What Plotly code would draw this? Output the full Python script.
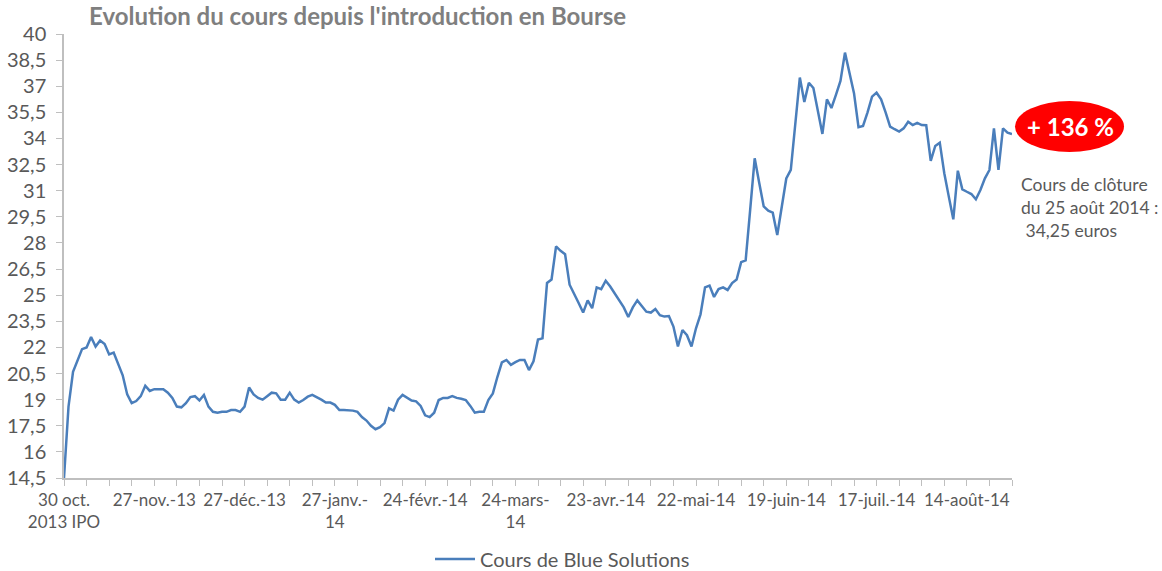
import plotly.graph_objects as go

# ---- data (daily closes, index = trading day since IPO) ----
prices = [
    14.5, 18.6, 20.6, 21.2, 21.9, 22.0, 22.6, 22.05, 22.4, 22.2,
    21.6, 21.7, 21.1, 20.4, 19.3, 18.8, 18.92, 19.2, 19.8, 19.5,
    19.6, 19.6, 19.6, 19.4, 19.1, 18.6, 18.56, 18.8, 19.15, 19.2,
    18.95, 19.27, 18.6, 18.3, 18.25, 18.3, 18.3, 18.4, 18.4, 18.3,
    18.6, 19.7, 19.3, 19.1, 19.0, 19.2, 19.4, 19.36, 19.0, 19.0,
    19.4, 19.0, 18.83, 18.98, 19.17, 19.27, 19.14, 19.0, 18.83, 18.83,
    18.7, 18.4, 18.4, 18.4, 18.37, 18.3, 18.0, 17.8, 17.5, 17.3,
    17.42, 17.65, 18.5, 18.37, 19.0, 19.27, 19.1, 18.95, 18.9, 18.64,
    18.1, 18.0, 18.25, 18.98, 19.1, 19.1, 19.2, 19.1, 19.05, 18.98,
    18.64, 18.25, 18.3, 18.3, 18.98, 19.36, 20.3, 21.14, 21.28, 21.0,
    21.15, 21.28, 21.28, 20.7, 21.2, 22.45, 22.52, 25.7, 25.9, 27.8,
    27.55, 27.35, 25.6, 25.1, 24.55, 24.0, 24.7, 24.25, 25.45, 25.35,
    25.83, 25.5, 25.1, 24.75, 24.3, 23.75, 24.3, 24.7, 24.4, 24.05,
    24.0, 24.2, 23.85, 23.77, 23.8, 23.2, 22.05, 23.0, 22.7, 22.05,
    23.1, 23.9, 25.45, 25.55, 24.9, 25.35, 25.45, 25.3, 25.7, 25.9,
    26.9, 27.0, 29.9, 32.86, 31.46, 30.1, 29.85, 29.74, 28.46, 30.1,
    31.7, 32.2, 34.9, 37.5, 36.1, 37.2, 36.9, 35.5, 34.26, 36.25,
    35.75, 36.5, 37.3, 38.93, 37.84, 36.6, 34.65, 34.72, 35.5, 36.4,
    36.63, 36.25, 35.5, 34.68, 34.53, 34.4, 34.58, 34.96, 34.77, 34.9,
    34.77, 34.76, 32.72, 33.57, 33.76, 32.0, 30.66, 29.36, 32.15, 31.08,
    30.94, 30.81, 30.51, 31.04, 31.71, 32.19, 34.58, 32.19, 34.58, 34.33,
    34.25,
]
days = list(range(len(prices)))

x_label_pos = [0, 20, 40, 60, 80, 100, 120, 140, 160, 180, 200]
x_labels = ["30 oct.<br>2013 IPO", "27-nov.-13", "27-déc.-13", "27-janv.-<br>14",
            "24-févr.-14", "24-mars-<br>14", "23-avr.-14", "22-mai-14",
            "19-juin-14", "17-juil.-14", "14-août-14"]
x_tick_step = 5

y_ticks = [14.5, 16, 17.5, 19, 20.5, 22, 23.5, 25, 26.5, 28, 29.5, 31, 32.5,
           34, 35.5, 37, 38.5, 40]
y_ticktext = [("%g" % v).replace(".", ",") for v in y_ticks]

series_name = "Cours de Blue Solutions"
title_text = "Evolution du cours depuis l'introduction en Bourse"
badge_text = "+ 136 %"
note_text = "Cours de clôture<br>du 25 août 2014 :<br> 34,25 euros"

# ---- figure ----
xt_vals = list(range(0, len(prices), x_tick_step))
lab = dict(zip(x_label_pos, x_labels))
xt_text = [lab.get(v, "") for v in xt_vals]

FONT = "Lato"
GREY = "#595959"
AXIS = "#bfbfbf"

fig = go.Figure()
fig.add_trace(go.Scatter(
    x=days, y=prices, mode="lines", name=series_name,
    line=dict(color="#4a7ebb", width=2.5),
    showlegend=True,
))

fig.update_layout(
    width=1162, height=571,
    margin=dict(l=64, r=150, t=34, b=93, autoexpand=False),
    paper_bgcolor="white", plot_bgcolor="white",
    font=dict(family=FONT, color=GREY, size=16),
    title=dict(text="<b>" + title_text + "</b>", x=89 / 1162, xanchor="left",
               y=1 - 17 / 571, yanchor="middle",
               font=dict(family=FONT, size=24, color="#7f7f7f")),
    legend=dict(orientation="h", x=(430 - 64) / 948, xanchor="left",
                y=(478 - 559) / 444, yanchor="middle",
                font=dict(family=FONT, size=20, color=GREY),
                bgcolor="rgba(0,0,0,0)", itemwidth=40),
    showlegend=True,
)

fig.update_xaxes(
    range=[0, len(prices) - 1], tickmode="array", tickvals=xt_vals, ticktext=xt_text,
    showgrid=False, zeroline=False, showline=True, linecolor=AXIS, linewidth=1.5,
    ticks="outside", ticklen=6, tickcolor=AXIS, tickangle=0,
    tickfont=dict(family=FONT, size=17, color=GREY),
)
fig.update_yaxes(
    range=[14.5, 40], tickmode="array", tickvals=y_ticks, ticktext=y_ticktext,
    showgrid=False, zeroline=False, showline=True, linecolor=AXIS, linewidth=1.5,
    ticks="outside", ticklen=6, tickcolor=AXIS, ticklabelstandoff=6,
    tickfont=dict(family=FONT, size=20, color=GREY),
)

# red badge
fig.add_shape(type="circle", xref="paper", yref="paper",
              x0=(1015 - 64) / 948, x1=(1124 - 64) / 948,
              y0=(478 - 152) / 444, y1=(478 - 101) / 444,
              fillcolor="#ff0000", line=dict(color="#ff0000", width=0))
fig.add_annotation(xref="paper", yref="paper", x=(1070 - 64) / 948, y=(478 - 127) / 444,
                   text="<b>" + badge_text + "</b>", showarrow=False,
                   font=dict(family=FONT, size=24, color="white"),
                   xanchor="center", yanchor="middle")
fig.add_annotation(xref="paper", yref="paper", x=(1019 - 64) / 948, y=(478 - 172) / 444,
                   text=note_text, showarrow=False, align="left",
                   font=dict(family=FONT, size=17.5, color=GREY),
                   xanchor="left", yanchor="top")

fig.write_html("out.html", config={"displayModeBar": False},
               post_script="document.body.style.margin='0';document.body.style.padding='0';")
